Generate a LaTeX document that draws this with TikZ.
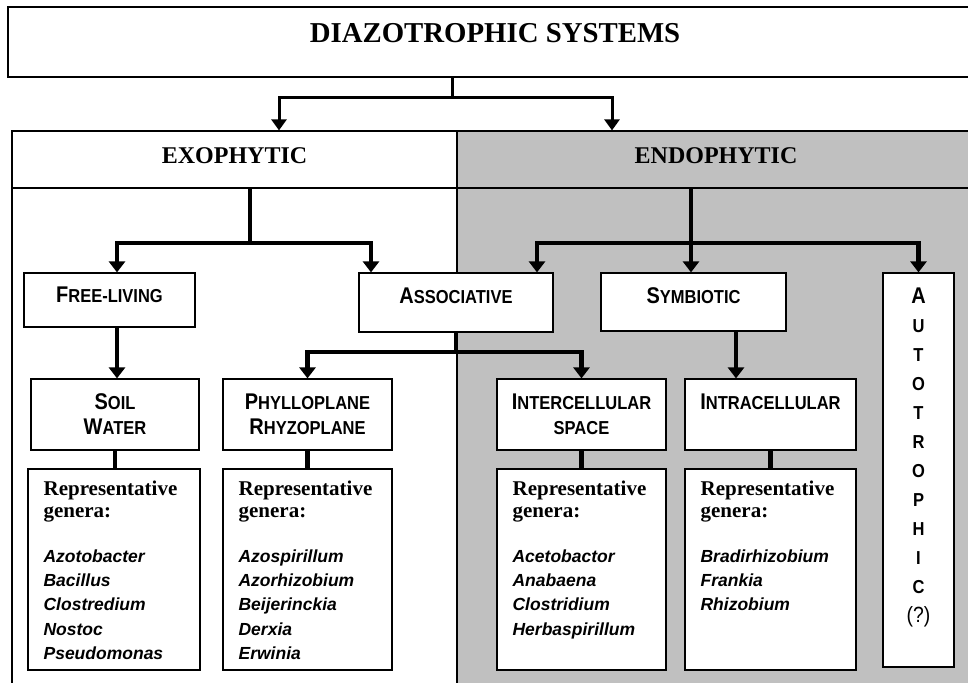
\documentclass[tikz,border=0pt]{standalone}
\usepackage{fontspec}
\setmainfont{Liberation Serif}
\setsansfont{Liberation Sans}
\newfontfamily\capsans[FakeStretch=0.88]{Liberation Sans}
\usetikzlibrary{arrows.meta,positioning}
\definecolor{endogrey}{RGB}{192,192,192}
\newcommand{\smc}[2]{{\fontsize{22.7}{25}\selectfont #1}{\fontsize{18.75}{25}\selectfont #2}}
\newcommand{\repfont}{\rmfamily\upshape\bfseries\fontsize{21}{22}\selectfont}

\begin{document}
\begin{tikzpicture}[x=1pt, y=-1pt,
  frame/.style={line width=1.2pt},
  box/.style={draw, line width=1.2pt, fill=white, inner sep=0pt, align=center, font=\capsans\bfseries\fontsize{18.75}{25}\selectfont},
  head/.style={draw, line width=1.2pt, inner sep=0pt, minimum height=57pt, text height=17pt, text depth=10pt, font=\rmfamily\bfseries\fontsize{24}{28}\selectfont},
  gentext/.style={inner sep=0pt, align=left, font=\sffamily\bfseries\itshape\fontsize{17.5}{24.4}\selectfont},
  autotext/.style={inner sep=0pt, align=center, font=\capsans\bfseries\fontsize{18.75}{29}\selectfont},
  link/.style={line width=4.5pt},
  arrow/.style={line width=4.5pt, -{Triangle[width=16pt,length=11pt]}},
  toplink/.style={line width=3pt},
  toparrow/.style={line width=3pt, -{Triangle[width=15pt,length=11pt]}}
]
\useasboundingbox (0,0) rectangle (968,682);
\clip (0,0) rectangle (968,682);

% title
\node[draw, line width=1.2pt, minimum width=974pt, minimum height=70pt, inner sep=0pt,
  text height=20pt, text depth=19pt, font=\rmfamily\bfseries\fontsize{28.8}{34}\selectfont] (top) at (495,42) {DIAZOTROPHIC SYSTEMS};

% frame and endophytic background
\fill[endogrey] (457,131) rectangle (975,700);
\draw[frame] (12,131) rectangle (975,700);
\draw[frame] (457,131) -- (457,700);

\node[head, minimum width=445pt] (exo) at (234.5,159.5) {EXOPHYTIC};
\node[head, fill=endogrey, minimum width=518pt] (endo) at (716,159.5) {ENDOPHYTIC};

% second level
\node[box, minimum width=171pt, minimum height=54pt, text height=16pt, text depth=12pt] (free) at (109.5,300) {\smc{F}{REE-LIVING}};
\node[box, minimum width=194pt, minimum height=59pt, text height=16pt, text depth=14pt] (assoc) at (456,302.5) {\smc{A}{SSOCIATIVE}};
\node[box, minimum width=185pt, minimum height=58pt, text height=16pt, text depth=14pt] (sym) at (693.5,302) {\smc{S}{YMBIOTIC}};
\node[box, minimum width=71pt, minimum height=394pt] (auto) at (918.5,470) {};
\node[autotext, below=15pt of auto.north] (autot) {{\fontsize{22.7}{29}\selectfont A}\\U\\T\\O\\T\\R\\O\\P\\H\\I\\C\\{\mdseries\fontsize{22}{29}\selectfont(?)}};

% third level
\node[box, minimum width=168pt, minimum height=71pt] (soil) at (115,414.5) {\smc{S}{OIL}\\\smc{W}{ATER}};
\node[box, minimum width=169pt, minimum height=71pt] (phyl) at (307.5,414.5) {\smc{P}{HYLLOPLANE}\\\smc{R}{HYZOPLANE}};
\node[box, minimum width=169pt, minimum height=71pt] (inter) at (581.5,414.5) {\smc{I}{NTERCELLULAR}\\\smc{}{SPACE}};
\node[box, minimum width=171pt, minimum height=71pt] (intra) at (770.5,414.5) {\smc{I}{NTRACELLULAR}\\\phantom{W}};

% genera
\node[box, minimum width=172pt, minimum height=201pt] (gsoil) at (114,569.5) {};
\node[box, minimum width=169pt, minimum height=201pt] (gphyl) at (307.5,569.5) {};
\node[box, minimum width=169pt, minimum height=201pt] (ginter) at (581.5,569.5) {};
\node[box, minimum width=171pt, minimum height=201pt] (gintra) at (770.5,569.5) {};
\node[gentext, below right=12pt and 16pt of gsoil.north west] (tsoil) {{\repfont Representative}\\[-2.4pt]{\repfont genera:}\\[20.6pt]Azotobacter\\Bacillus\\Clostredium\\Nostoc\\Pseudomonas};
\node[gentext, below right=12pt and 16pt of gphyl.north west] (tphyl) {{\repfont Representative}\\[-2.4pt]{\repfont genera:}\\[20.6pt]Azospirillum\\Azorhizobium\\Beijerinckia\\Derxia\\Erwinia};
\node[gentext, below right=12pt and 16pt of ginter.north west] (tinter) {{\repfont Representative}\\[-2.4pt]{\repfont genera:}\\[20.6pt]Acetobactor\\Anabaena\\Clostridium\\Herbaspirillum};
\node[gentext, below right=12pt and 16pt of gintra.north west] (tintra) {{\repfont Representative}\\[-2.4pt]{\repfont genera:}\\[20.6pt]Bradirhizobium\\Frankia\\Rhizobium};

% connectors
\coordinate (tsplit) at (452,98);
\draw[toplink] (top.south -| tsplit) -- (tsplit);
\draw[toparrow] (tsplit) -| ([xshift=44.5]exo.north);
\draw[toparrow] (tsplit) -| ([xshift=-104]endo.north);

\coordinate (xsplit) at (250,243);
\draw[link] (exo.south -| xsplit) -- (xsplit);
\draw[arrow] (xsplit) -| ([xshift=7.5]free.north);
\draw[arrow] (xsplit) -| ([xshift=-85]assoc.north);

\coordinate (nsplit) at (691,243);
\draw[arrow] (endo.south -| nsplit) -- (sym.north -| nsplit);
\draw[arrow] (nsplit) -| ([xshift=81]assoc.north);
\draw[arrow] (nsplit) -| (auto.north);

\draw[arrow] ([xshift=7.5]free.south) -- ([xshift=2]soil.north);
\coordinate (asplit) at (456,352);
\draw[link] (assoc.south) -- (asplit);
\draw[arrow] (asplit) -| (phyl.north);
\draw[arrow] (asplit) -| (inter.north);
\draw[arrow] ([xshift=42.5]sym.south) -- ([xshift=-34.5]intra.north);

\draw[link] (soil.south) -- (soil.south |- gsoil.north);
\draw[link] (phyl.south) -- (phyl.south |- gphyl.north);
\draw[link] (inter.south) -- (inter.south |- ginter.north);
\draw[link] (intra.south) -- (intra.south |- gintra.north);
\end{tikzpicture}
\end{document}
